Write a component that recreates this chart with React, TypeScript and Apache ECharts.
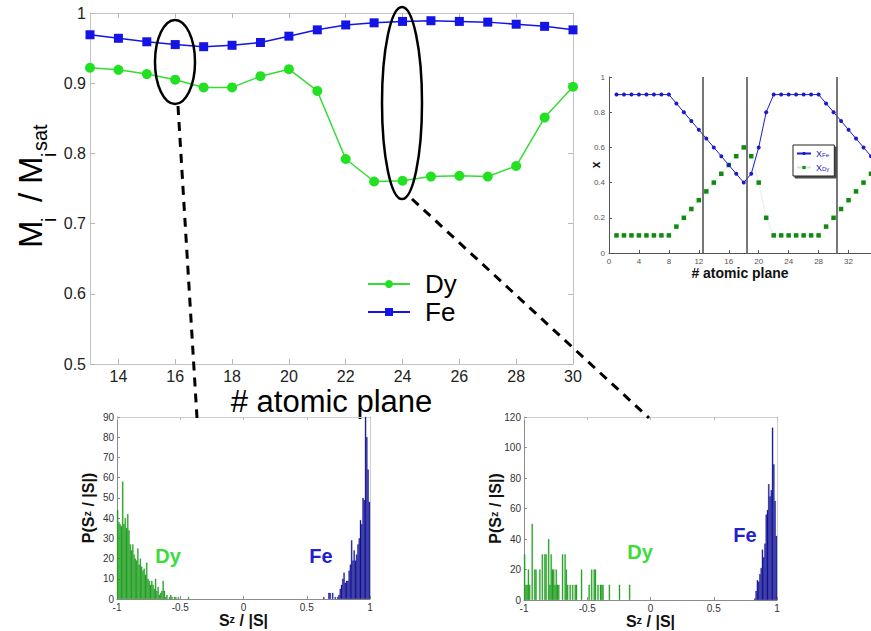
import React, { useEffect, useRef } from "react";
import * as echarts from "echarts";

const FONT = "'Liberation Sans', Arial, Helvetica, sans-serif";

// ---------- main panel: normalised magnetisation per atomic plane ----------
const planes = [13, 14, 15, 16, 17, 18, 19, 20, 21, 22, 23, 24, 25, 26, 27, 28, 29, 30];
const feMag = [0.969, 0.964, 0.959, 0.955, 0.952, 0.954, 0.958, 0.967, 0.976, 0.983, 0.986, 0.988, 0.989, 0.988, 0.987, 0.984, 0.981, 0.976];
const dyMag = [0.922, 0.919, 0.913, 0.905, 0.894, 0.894, 0.91, 0.92, 0.889, 0.792, 0.76, 0.761, 0.767, 0.768, 0.767, 0.782, 0.851, 0.895];
const mainXTicks = [14, 16, 18, 20, 22, 24, 26, 28, 30];

// ---------- inset: concentration profile ----------
const insetPlanes = [1, 2, 3, 4, 5, 6, 7, 8, 9, 10, 11, 12, 13, 14, 15, 16, 17, 18, 19, 20, 21, 22, 23, 24, 25, 26, 27, 28, 29, 30, 31, 32, 33, 34, 35];
const xFe = [0.9, 0.9, 0.9, 0.9, 0.9, 0.9, 0.9, 0.9, 0.85, 0.8, 0.75, 0.7, 0.65, 0.6, 0.55, 0.5, 0.45, 0.4, 0.45, 0.6, 0.8, 0.9, 0.9, 0.9, 0.9, 0.9, 0.9, 0.9, 0.85, 0.8, 0.75, 0.7, 0.65, 0.6, 0.55];
const xDy = [0.1, 0.1, 0.1, 0.1, 0.1, 0.1, 0.1, 0.1, 0.15, 0.2, 0.25, 0.3, 0.35, 0.4, 0.45, 0.5, 0.55, 0.6, 0.55, 0.4, 0.2, 0.1, 0.1, 0.1, 0.1, 0.1, 0.1, 0.1, 0.15, 0.2, 0.25, 0.3, 0.35, 0.4, 0.45];
const insetXTicks = [0, 4, 8, 12, 16, 20, 24, 28, 32];
const interfacePlanes = [12.5, 18.4, 30.4];

// ---------- histograms (bin width 0.01) ----------
const binWidth = 0.01;
const histL_DyStart = -1;
const histL_Dy = [44, 38, 37, 36, 58, 37, 40, 35, 42, 34, 27, 24, 27, 22, 20, 19, 25, 17, 20, 16, 14, 15, 12, 18, 10, 9, 7, 9, 7, 5, 10, 4, 6, 2, 3, 4, 9, 4, 1, 2, 0, 1, 2, 1, 0, 1, 1, 0, 1, 0, 0, 0, 0, 0, 0, 0, 1];
const histL_FeStart = 0.63;
const histL_Fe = [1, 0, 0, 0, 3, 3, 0, 3, 0, 1, 0, 1, 2, 5, 7, 10, 13, 8, 9, 9, 14, 17, 29, 19, 24, 19, 22, 27, 30, 39, 37, 50, 49, 90, 80, 64, 48];

const histR_Dy: [number, number][] = [
  [-0.995, 30], [-0.985, 10], [-0.975, 10], [-0.965, 20], [-0.955, 10], [-0.935, 50], [-0.915, 20], [-0.905, 20],
  [-0.875, 20], [-0.855, 30], [-0.835, 30], [-0.825, 30], [-0.805, 40], [-0.795, 10], [-0.785, 30], [-0.775, 20],
  [-0.765, 20], [-0.755, 10], [-0.745, 20], [-0.735, 10], [-0.725, 10], [-0.695, 30], [-0.675, 30], [-0.665, 20],
  [-0.655, 10], [-0.635, 10], [-0.615, 10], [-0.595, 10], [-0.585, 10], [-0.545, 20], [-0.485, 10], [-0.465, 20],
  [-0.445, 20], [-0.435, 20], [-0.415, 10], [-0.395, 10], [-0.385, 10], [-0.375, 10], [-0.325, 10], [-0.245, 10], [-0.165, 10],
];
const histR_FeStart = 0.82;
const histR_Fe = [1, 6, 13, 12, 17, 21, 33, 28, 37, 56, 59, 76, 68, 72, 113, 89, 65, 42];

const toBins = (start: number, counts: number[]) =>
  counts
    .map((c, i) => [+(start + binWidth * (i + 0.5)).toFixed(4), c])
    .filter((d) => d[1] > 0);

const GREEN_LINE = "#33dd33";
const BLUE_LINE = "#1414e6";
const HIST_GREEN = "#25ad25";
const HIST_GREEN_EDGE = "#118411";
const HIST_BLUE = "#1a1aa8";
const HIST_BLUE_EDGE = "#000078";

function mainAxisStyle(color: string) {
  return {
    axisLine: { show: true, onZero: false, lineStyle: { color, width: 1 } },
    splitLine: { show: false },
    nameMoveOverlap: false,
  };
}

export default function App() {
  const ref = useRef<HTMLDivElement>(null);

  useEffect(() => {
    if (!ref.current) return;
    const chart = echarts.init(ref.current, undefined, { renderer: "svg" });

    const grids = [
      { left: 90, top: 13, width: 483, height: 351, outerBoundsMode: "none" },
      { left: 609, top: 77, width: 262, height: 176, outerBoundsMode: "none" },
      { left: 117, top: 417, width: 253, height: 182, outerBoundsMode: "none" },
      { left: 524, top: 417, width: 253, height: 183, outerBoundsMode: "none" },
    ];

    const richName = {
      n: { fontSize: 16, lineHeight: 15, fontWeight: "bold", color: "#111", fontFamily: FONT },
      sup: { fontSize: 11, lineHeight: 15, fontWeight: "bold", color: "#111", fontFamily: FONT, verticalAlign: "top", padding: [0, 0, 6, 0] },
    };

    const histX = (grid: number) => ({
      type: "value",
      gridIndex: grid,
      min: -1,
      max: 1,
      interval: 0.5,
      ...mainAxisStyle("#8c8c8c"),
      axisTick: { inside: true, length: 3, lineStyle: { color: "#8c8c8c" } },
      axisLabel: { color: "#333", fontSize: 10, lineHeight: 10, fontFamily: FONT, margin: 3 },
      name: "{n|S}{sup|z}{n| / |S|}",
      nameLocation: "middle",
      nameGap: 14,
      nameTextStyle: { rich: richName },
    });
    const histXTop = (grid: number) => ({
      type: "value",
      gridIndex: grid,
      position: "top",
      min: -1,
      max: 1,
      interval: 0.5,
      ...mainAxisStyle("#cfcfcf"),
      axisTick: { inside: true, length: 3, lineStyle: { color: "#bdbdbd" } },
      axisLabel: { show: false },
    });
    const histY = (grid: number, max: number, interval: number) => ({
      type: "value",
      gridIndex: grid,
      min: 0,
      max,
      interval,
      ...mainAxisStyle("#8c8c8c"),
      axisTick: { inside: true, length: 3, lineStyle: { color: "#8c8c8c" } },
      axisLabel: { color: "#333", fontSize: 10, fontFamily: FONT, margin: 3 },
      name: "{n|P(S}{sup|z}{n| / |S|)}",
      nameLocation: "middle",
      nameRotate: 90,
      nameGap: 21,
      nameTextStyle: { rich: richName },
    });
    const histYRight = (grid: number, max: number, interval: number) => ({
      type: "value",
      gridIndex: grid,
      position: "right",
      min: 0,
      max,
      interval,
      ...mainAxisStyle("#cfcfcf"),
      axisTick: { show: false },
      axisLabel: { show: false },
    });

    const xAxis = [
      {
        type: "value",
        gridIndex: 0,
        min: 13,
        max: 30,
        ...mainAxisStyle("#c4c4c4"),
        axisTick: { inside: true, length: 5, lineStyle: { color: "#b8b8b8" }, customValues: mainXTicks },
        axisLabel: { customValues: mainXTicks, color: "#222", fontSize: 16, lineHeight: 16, fontFamily: FONT, margin: 4 },
        name: "# atomic plane",
        nameLocation: "middle",
        nameGap: 24,
        nameTextStyle: { fontSize: 31, lineHeight: 26, color: "#000", fontFamily: FONT },
      },
      {
        type: "value",
        gridIndex: 0,
        position: "top",
        min: 13,
        max: 30,
        ...mainAxisStyle("#c4c4c4"),
        axisTick: { inside: true, length: 5, lineStyle: { color: "#b8b8b8" }, customValues: mainXTicks },
        axisLabel: { show: false, customValues: mainXTicks },
      },
      {
        type: "value",
        gridIndex: 1,
        min: 0,
        max: 35,
        ...mainAxisStyle("#555"),
        axisTick: { inside: true, length: 3, lineStyle: { color: "#555" }, customValues: insetXTicks },
        axisLabel: { customValues: insetXTicks, color: "#555", fontSize: 8, fontFamily: FONT, margin: 4 },
        name: "# atomic plane",
        nameLocation: "middle",
        nameGap: 13,
        nameTextStyle: { fontSize: 14, fontWeight: "bold", color: "#111", fontFamily: FONT },
      },
      histX(2),
      histXTop(2),
      histX(3),
      histXTop(3),
    ];

    const yAxis = [
      {
        type: "value",
        gridIndex: 0,
        min: 0.5,
        max: 1,
        interval: 0.1,
        ...mainAxisStyle("#c4c4c4"),
        axisTick: { inside: true, length: 5, lineStyle: { color: "#b8b8b8" } },
        axisLabel: { color: "#222", fontSize: 16, fontFamily: FONT, margin: 4 },
      },
      {
        type: "value",
        gridIndex: 0,
        position: "right",
        min: 0.5,
        max: 1,
        interval: 0.1,
        ...mainAxisStyle("#c4c4c4"),
        axisTick: { inside: true, length: 5, lineStyle: { color: "#b8b8b8" } },
        axisLabel: { show: false },
      },
      {
        type: "value",
        gridIndex: 1,
        min: 0,
        max: 1,
        interval: 0.2,
        ...mainAxisStyle("#555"),
        axisTick: { inside: true, length: 3, lineStyle: { color: "#555" } },
        axisLabel: { color: "#555", fontSize: 8, fontFamily: FONT, margin: 4 },
        name: "x",
        nameLocation: "middle",
        nameRotate: 90,
        nameGap: 7,
        nameTextStyle: { fontSize: 12, fontWeight: "bold", color: "#111", fontFamily: FONT },
      },
      histY(2, 90, 10),
      histYRight(2, 90, 10),
      histY(3, 120, 20),
      histYRight(3, 120, 20),
    ];

    const barBase = {
      type: "bar",
      barWidth: 1.3,
      barGap: "-100%",
    };

    const series: any[] = [
      {
        type: "line",
        name: "Dy",
        xAxisIndex: 0,
        yAxisIndex: 0,
        data: planes.map((p, i) => [p, dyMag[i]]),
        symbol: "circle",
        symbolSize: 10,
        lineStyle: { color: GREEN_LINE, width: 1.5 },
        itemStyle: { color: "#22e022" },
        z: 3,
      },
      {
        type: "line",
        name: "Fe",
        xAxisIndex: 0,
        yAxisIndex: 0,
        data: planes.map((p, i) => [p, feMag[i]]),
        symbol: "rect",
        symbolSize: 9,
        lineStyle: { color: BLUE_LINE, width: 1.5 },
        itemStyle: { color: BLUE_LINE },
        z: 3,
      },
      {
        type: "line",
        name: "X_Dy",
        xAxisIndex: 2,
        yAxisIndex: 2,
        data: insetPlanes.map((p, i) => [p, xDy[i]]),
        symbol: "rect",
        symbolSize: 4.5,
        lineStyle: { color: "#9fcf9f", width: 0.6, opacity: 0.5 },
        itemStyle: { color: "#128a12" },
      },
      {
        type: "line",
        name: "X_Fe",
        xAxisIndex: 2,
        yAxisIndex: 2,
        data: insetPlanes.map((p, i) => [p, xFe[i]]),
        symbol: "circle",
        symbolSize: 4,
        lineStyle: { color: "#1a1acc", width: 1 },
        itemStyle: { color: "#1a1acc" },
        markLine: {
          silent: true,
          symbol: ["none", "none"],
          label: { show: false },
          lineStyle: { color: "#4a4a4a", width: 1.5, type: "solid" },
          data: interfacePlanes.map((v) => ({ xAxis: v })),
        },
      },
      {
        ...barBase,
        name: "Dy hist 16",
        xAxisIndex: 3,
        yAxisIndex: 3,
        data: toBins(histL_DyStart, histL_Dy),
        itemStyle: { color: HIST_GREEN, borderColor: HIST_GREEN_EDGE, borderWidth: 0.3 },
      },
      {
        ...barBase,
        name: "Fe hist 16",
        xAxisIndex: 3,
        yAxisIndex: 3,
        data: toBins(histL_FeStart, histL_Fe),
        itemStyle: { color: HIST_BLUE, borderColor: HIST_BLUE_EDGE, borderWidth: 0.3 },
      },
      {
        ...barBase,
        name: "Dy hist 24",
        xAxisIndex: 5,
        yAxisIndex: 5,
        data: histR_Dy,
        itemStyle: { color: HIST_GREEN, borderColor: HIST_GREEN_EDGE, borderWidth: 0.3 },
      },
      {
        ...barBase,
        name: "Fe hist 24",
        xAxisIndex: 5,
        yAxisIndex: 5,
        data: toBins(histR_FeStart, histR_Fe),
        itemStyle: { color: HIST_BLUE, borderColor: HIST_BLUE_EDGE, borderWidth: 0.3 },
      },
    ];

    const labelText = (x: number, y: number, text: string, color: string, size = 20) => ({
      type: "text",
      x,
      y,
      z: 50,
      style: { text, fill: color, fontSize: size, fontWeight: "bold", fontFamily: FONT, align: "center", verticalAlign: "middle" },
    });

    const yNamePart = (x: number, y: number, text: string, size: number) => ({
      type: "text",
      x,
      y,
      style: { text, fill: "#000", fontSize: size, fontFamily: FONT, align: "left", verticalAlign: "middle" },
    });

    const graphic = [
      {
        type: "group",
        x: 30,
        y: 250,
        rotation: Math.PI / 2,
        children: [
          yNamePart(2, 0, "M", 33),
          yNamePart(28, 19, "i", 20),
          yNamePart(48, 0, "/", 33),
          yNamePart(66, 0, "M", 33),
          yNamePart(93, 19, "i", 20),
          yNamePart(99, 10, "sat", 20),
        ],
      },
      { type: "ellipse", z: 60, shape: { cx: 175, cy: 62, rx: 20, ry: 42 }, style: { fill: "none", stroke: "#000", lineWidth: 2.5 } },
      { type: "ellipse", z: 60, shape: { cx: 402, cy: 103, rx: 20, ry: 96 }, style: { fill: "none", stroke: "#000", lineWidth: 2.5 } },
      { type: "line", z: 60, shape: { x1: 178, y1: 106, x2: 197, y2: 418 }, style: { stroke: "#000", lineWidth: 3, lineDash: [9, 7] } },
      { type: "line", z: 60, shape: { x1: 412, y1: 199, x2: 649, y2: 418 }, style: { stroke: "#000", lineWidth: 3, lineDash: [9, 7] } },
      labelText(168, 556, "Dy", "#3ddc3d"),
      labelText(321, 556, "Fe", "#2222cc"),
      labelText(640, 552, "Dy", "#3ddc3d"),
      labelText(745, 535, "Fe", "#2222cc"),
    ];

    chart.setOption({
      animation: false,
      backgroundColor: "#fff",
      textStyle: { fontFamily: FONT },
      grid: grids,
      xAxis,
      yAxis,
      series,
      legend: [
        {
          data: ["Dy", "Fe"],
          orient: "vertical",
          left: 367,
          top: 271,
          padding: 0,
          itemWidth: 42,
          itemHeight: 10,
          itemGap: 2,
          textStyle: { fontSize: 26, color: "#000", fontFamily: FONT, padding: [0, 0, 0, 10] },
        },
        {
          data: ["X_Fe", "X_Dy"],
          orient: "vertical",
          left: 793,
          top: 145,
          padding: [4, 5, 4, 3],
          itemWidth: 14,
          itemHeight: 4,
          itemGap: 5,
          backgroundColor: "#fff",
          borderColor: "#222",
          borderWidth: 1,
          shadowColor: "rgba(0,0,0,0.7)",
          shadowOffsetX: 2,
          shadowOffsetY: 2,
          shadowBlur: 0,
          formatter: (n: string) => (n === "X_Fe" ? "{xb|X}{sb|Fe}" : "{xg|X}{sg|Dy}"),
          textStyle: {
            fontSize: 9,
            fontFamily: FONT,
            rich: {
              xb: { fontSize: 9, color: "#1a1acc" },
              sb: { fontSize: 6, color: "#1a1acc", verticalAlign: "bottom" },
              xg: { fontSize: 9, color: "#1a1acc" },
              sg: { fontSize: 6, color: "#1a1acc", verticalAlign: "bottom" },
            },
          },
        },
      ],
      graphic,
    } as any);

    return () => chart.dispose();
  }, []);

  return <div ref={ref} style={{ position: "fixed", left: 0, top: 0, width: 871, height: 631, background: "#fff" }} />;
}
